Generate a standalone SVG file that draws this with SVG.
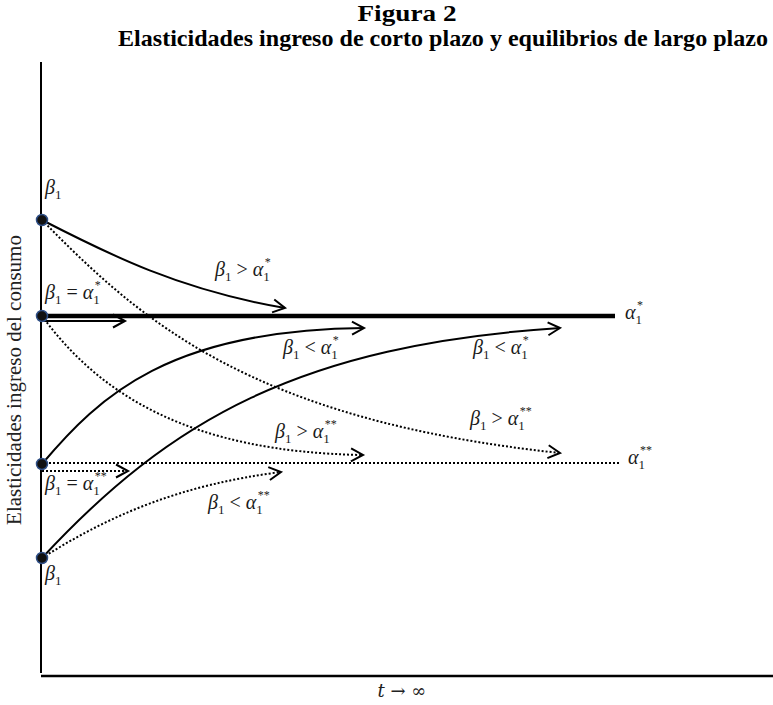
<svg xmlns="http://www.w3.org/2000/svg" width="773" height="705" viewBox="0 0 773 705">
<style>
.title{font-family:"Liberation Serif","Times New Roman",serif;font-weight:bold;font-size:23px;fill:#000;text-anchor:middle}
.ax{stroke:#000;fill:none}
.sol{stroke:#000;stroke-width:2;fill:none}
.dot{stroke:#000;stroke-width:2;fill:none;stroke-dasharray:2 2}
.m{font-family:"Liberation Serif",serif;font-style:italic;font-size:20px;fill:#1a1a1a}
.s{font-style:normal;font-size:13px}
.p{font-style:normal;font-size:12px}
.op{font-style:normal}
.node{fill:#111;stroke:#2f4f86;stroke-width:1.5}
.ylab{font-family:"Liberation Serif",serif;font-size:21px;fill:#222;text-anchor:middle}
</style>
<defs>
<marker id="ah" markerWidth="16" markerHeight="16" refX="13" refY="8" orient="auto" markerUnits="userSpaceOnUse">
<path d="M1,1.5 L13,8 L1,14.5" fill="none" stroke="#000" stroke-width="2" stroke-dasharray="none"/>
</marker>
</defs>
<rect width="773" height="705" fill="#fff"/>
<g id="title">
<text class="title" x="407" y="21" textLength="99" lengthAdjust="spacingAndGlyphs">Figura 2</text>
<text class="title" x="443" y="46" textLength="650" lengthAdjust="spacingAndGlyphs">Elasticidades ingreso de corto plazo y equilibrios de largo plazo</text>
</g>
<g id="axes">
<line class="ax" x1="41" y1="62" x2="41" y2="673" stroke-width="2"/>
<line class="ax" x1="41" y1="676" x2="773" y2="676" stroke-width="2.5"/>
<text class="ylab" transform="translate(21,380) rotate(-90)">Elasticidades ingreso del consumo</text>
<text x="402" y="697" font-family="DejaVu Serif,serif" font-size="18" fill="#222" text-anchor="middle"><tspan font-style="italic">t</tspan> → ∞</text>
</g>
<g id="equilibria">
<line x1="41" y1="316" x2="615" y2="316" stroke="#000" stroke-width="4.5"/>
<line class="dot" x1="41" y1="463" x2="620" y2="463"/>
</g>
<g id="connectors">
<path class="sol" d="M42,220 C110,255 180,290 285,308" marker-end="url(#ah)"/>
<path class="dot" d="M42,220 C140,320 250,420 560,453" marker-end="url(#ah)"/>
<path class="sol" d="M42,321 L125,321" marker-end="url(#ah)"/>
<path class="sol" d="M42,464 C100,395 170,330 364,328" marker-end="url(#ah)"/>
<path class="sol" d="M42,558 C170,420 300,345 560,328" marker-end="url(#ah)"/>
<path class="dot" d="M42,316 C100,395 190,452 363,455" marker-end="url(#ah)"/>
<path class="dot" d="M42,471 L128,471" marker-end="url(#ah)"/>
<path class="dot" d="M42,558 C110,515 180,485 281,472" marker-end="url(#ah)"/>
</g>
<g id="n1"><circle class="node" cx="42" cy="220" r="5.5"/></g>
<g id="n2"><circle class="node" cx="42" cy="316" r="5.5"/></g>
<g id="n3"><circle class="node" cx="42" cy="464" r="5.5"/></g>
<g id="n4"><circle class="node" cx="42" cy="558" r="5.5"/></g>
<g id="labels">
<text class="m" x="45" y="194">β<tspan class="s" dy="5">1</tspan></text>
<text class="m" x="45" y="299">β<tspan class="s" dy="5">1</tspan><tspan class="op" dy="-5"> = </tspan>α<tspan class="s" dy="5">1</tspan><tspan class="p" dx="-5" dy="-15">*</tspan></text>
<text class="m" x="215" y="276">β<tspan class="s" dy="5">1</tspan><tspan class="op" dy="-5"> &gt; </tspan>α<tspan class="s" dy="5">1</tspan><tspan class="p" dx="-5" dy="-15">*</tspan></text>
<text class="m" x="283" y="354">β<tspan class="s" dy="5">1</tspan><tspan class="op" dy="-5"> &lt; </tspan>α<tspan class="s" dy="5">1</tspan><tspan class="p" dx="-5" dy="-15">*</tspan></text>
<text class="m" x="473" y="354">β<tspan class="s" dy="5">1</tspan><tspan class="op" dy="-5"> &lt; </tspan>α<tspan class="s" dy="5">1</tspan><tspan class="p" dx="-5" dy="-15">*</tspan></text>
<text class="m" x="275" y="438">β<tspan class="s" dy="5">1</tspan><tspan class="op" dy="-5"> &gt; </tspan>α<tspan class="s" dy="5">1</tspan><tspan class="p" dx="-5" dy="-15">**</tspan></text>
<text class="m" x="470" y="425">β<tspan class="s" dy="5">1</tspan><tspan class="op" dy="-5"> &gt; </tspan>α<tspan class="s" dy="5">1</tspan><tspan class="p" dx="-5" dy="-15">**</tspan></text>
<text class="m" x="45" y="490">β<tspan class="s" dy="5">1</tspan><tspan class="op" dy="-5"> = </tspan>α<tspan class="s" dy="5">1</tspan><tspan class="p" dx="-5" dy="-15">**</tspan></text>
<text class="m" x="208" y="509">β<tspan class="s" dy="5">1</tspan><tspan class="op" dy="-5"> &lt; </tspan>α<tspan class="s" dy="5">1</tspan><tspan class="p" dx="-5" dy="-15">**</tspan></text>
<text class="m" x="45" y="580">β<tspan class="s" dy="5">1</tspan></text>
<text class="m" x="625" y="319">α<tspan class="s" dy="5">1</tspan><tspan class="p" dx="-5" dy="-15">*</tspan></text>
<text class="m" x="628" y="464">α<tspan class="s" dy="5">1</tspan><tspan class="p" dx="-5" dy="-15">**</tspan></text>
</g>
</svg>
